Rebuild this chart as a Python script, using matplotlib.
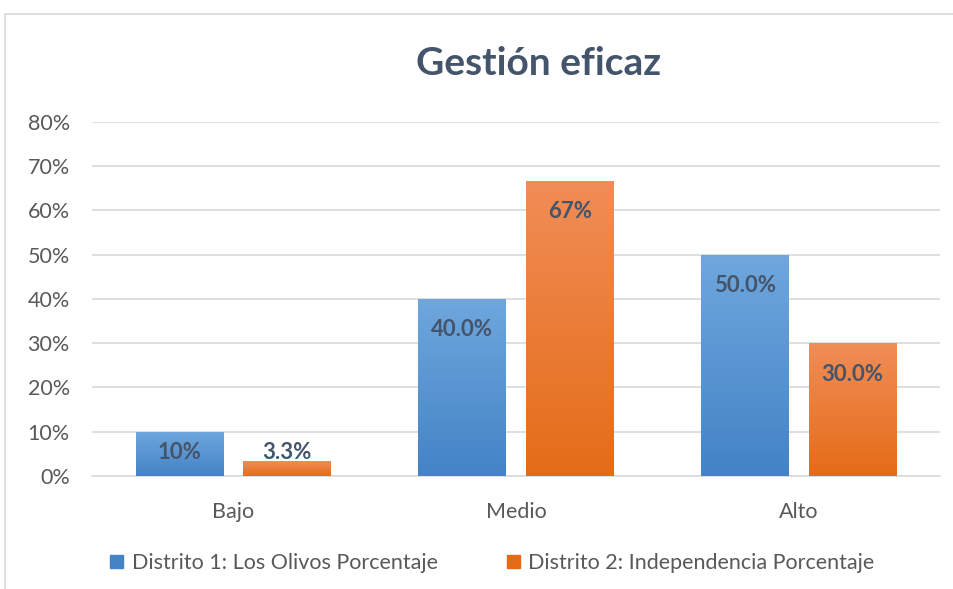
import numpy as np
import matplotlib.pyplot as plt
from matplotlib.patches import Rectangle
from matplotlib.colors import LinearSegmentedColormap

plt.rcParams['font.family'] = ['Lato', 'DejaVu Sans']

# Data
categories = ['Bajo', 'Medio', 'Alto']
series_names = ['Distrito 1: Los Olivos Porcentaje', 'Distrito 2: Independencia Porcentaje']
distrito1 = [10, 40.0, 50.0]
distrito2 = [3.3, 66.7, 30.0]
labels1 = ['10%', '40.0%', '50.0%']
labels2 = ['3.3%', '67%', '30.0%']

text_col = '#44546A'
tick_col = '#595959'
grid_col = '#D9D9D9'
blue_grad = ['#4383C6', '#6FA7DD']    # bottom -> top
orange_grad = ['#E46C17', '#F18D57']

fig = plt.figure(figsize=(9.54, 5.89), dpi=100)
ax = fig.add_axes([0.0964, 0.1919, 0.8889, 0.601])

# chart border
fig.patches.append(Rectangle((5 / 954, -0.1), 1.1, (1 - 14 / 589) + 0.1,
                             transform=fig.transFigure, fill=False,
                             edgecolor=grid_col, linewidth=1.2, zorder=0))

x = np.arange(len(categories))
width = 0.31
offset = 0.19


def gradient_bars(xs, vals, colors):
    cmap = LinearSegmentedColormap.from_list('g', colors)
    grad = np.linspace(0, 1, 256).reshape(-1, 1)
    bars = ax.bar(xs, vals, width, color=colors[1], edgecolor='none', zorder=2)
    for b in bars:
        im = ax.imshow(grad, cmap=cmap, origin='lower', aspect='auto',
                       extent=[b.get_x(), b.get_x() + b.get_width(), 0, b.get_height()],
                       zorder=3)
        im.set_clip_path(b)
    return bars


bars1 = gradient_bars(x - offset, distrito1, blue_grad)
bars2 = gradient_bars(x + offset, distrito2, orange_grad)

# value labels (inside end, centered when bar too short)
for xs, vals, labs in [(x - offset, distrito1, labels1), (x + offset, distrito2, labels2)]:
    for xi, v, lab in zip(xs, vals, labs):
        ax.text(xi, max(v - 7, 5.4), lab, ha='center', va='center',
                fontsize=16, fontweight='bold', color=text_col, zorder=4)

ax.set_xlim(-0.5, 2.5)
ax.set_ylim(0, 80)
ax.set_yticks(np.arange(0, 81, 10))
ax.set_yticklabels([f'{t}%' for t in range(0, 81, 10)])
ax.set_xticks(x)
ax.set_xticklabels(categories)
ax.tick_params(axis='both', length=0, labelsize=15.5, labelcolor=tick_col)
ax.tick_params(axis='y', pad=16)
ax.tick_params(axis='x', pad=19)

ax.grid(axis='y', color=grid_col, linewidth=1.2, zorder=0)
ax.set_axisbelow(True)
for s in ['top', 'right', 'left']:
    ax.spines[s].set_visible(False)
ax.spines['bottom'].set_color(grid_col)
ax.spines['bottom'].set_linewidth(1.2)

fig.text(0.564, 0.893, 'Gestión eficaz', ha='center', va='center',
         fontsize=28, fontweight='bold', color=text_col)

handles = [Rectangle((0, 0), 1, 1, color=blue_grad[0]), Rectangle((0, 0), 1, 1, color=orange_grad[0])]
fig.legend(handles, series_names, loc='center', bbox_to_anchor=(0.516, 0.044), ncol=2,
           frameon=False, fontsize=15.5, labelcolor=tick_col, handlelength=0.6,
           handleheight=0.6, handletextpad=0.4, columnspacing=3.2)

fig.savefig('out.png', dpi=100)
